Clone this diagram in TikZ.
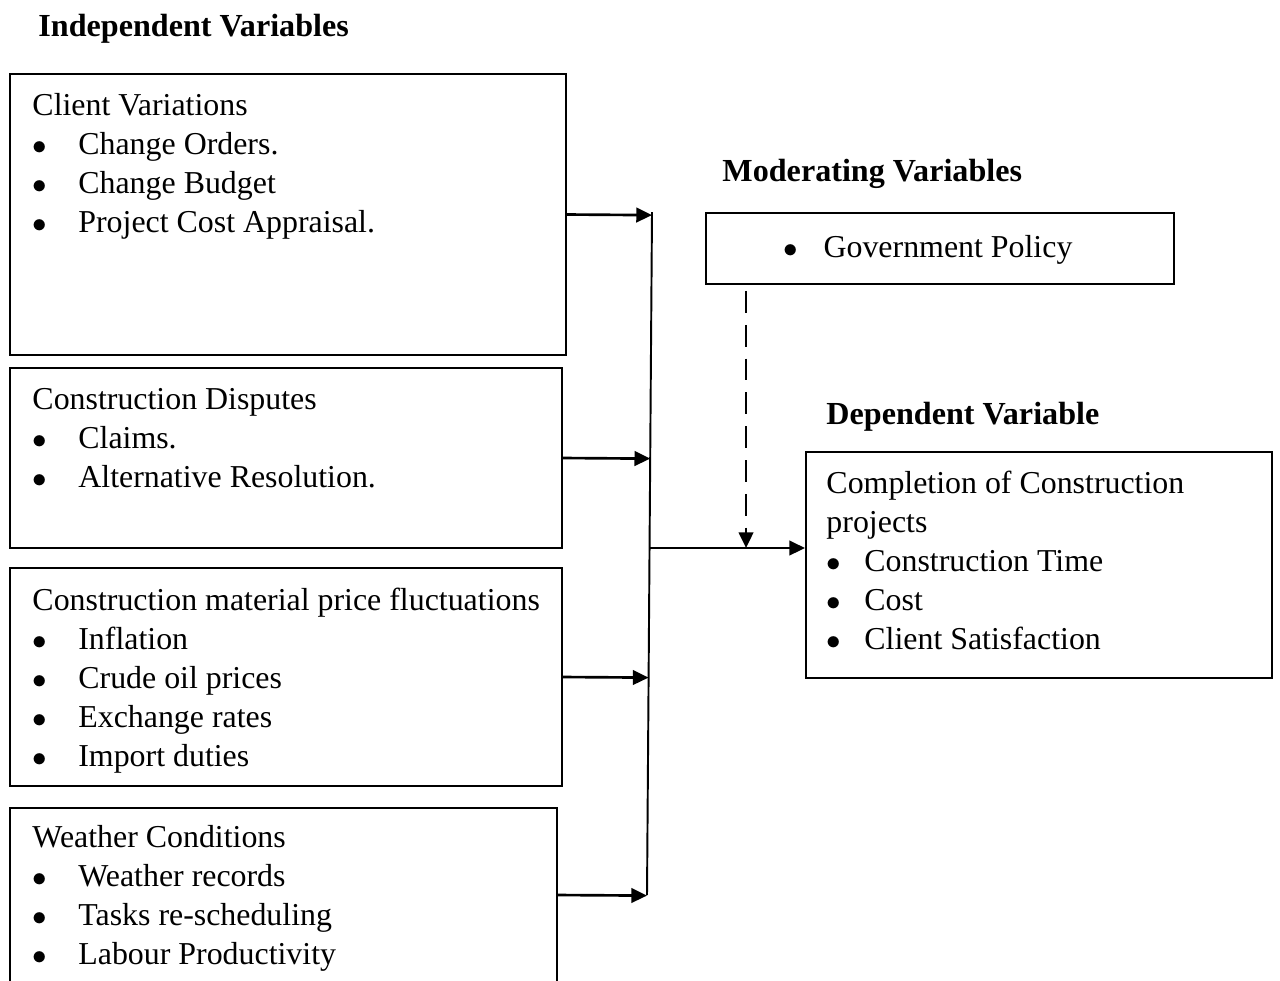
\documentclass[tikz,border=0pt]{standalone}
\usepackage{fontspec}
\setmainfont{Liberation Serif}
\usetikzlibrary{arrows.meta, calc}
\newcommand\pix{0.414pt} % one pixel of the layout
\newcommand\bul[1][19pt]{\makebox[#1][l]{$\bullet$}} % bullet with its indent
\tikzset{
varbox/.style={draw, rectangle, line width=0.8pt, inner sep=0pt}, % the framed boxes
boxtext/.style={anchor=north west, inner sep=0pt, align=left, font=\fontsize{13.2}{16.15}\selectfont}, % the lines in a box
heading/.style={anchor=base west, inner sep=0pt, font=\fontsize{13.3}{16.15}\selectfont\bfseries}, % bold titles
link/.style={-{Triangle[length=6.5pt,width=6pt]}, line width=1.1pt}, % arrows into the bar and the result
}

\begin{document}
\begin{tikzpicture}[x=\pix, y=-\pix]
        \path[fill=white] (0,0) rectangle (1280,980);
        \useasboundingbox (0,0) rectangle (1280,980);

        % titles
        \node[heading] (indep) at (38,36) {Independent Variables};
        \node[heading] (moder) at (722,181) {Moderating Variables};
        \node[heading] (dep) at (826,424) {Dependent Variable};

        % boxes
        \node[varbox, minimum width=556*\pix, minimum height=281*\pix] (cv) at (288,214.5) {};
        \node[varbox, minimum width=552*\pix, minimum height=180*\pix] (cd) at (286,458) {};
        \node[varbox, minimum width=552*\pix, minimum height=218*\pix] (mp) at (286,677) {};
        \node[varbox, minimum width=547*\pix, minimum height=174*\pix] (wc) at (283.5,895) {};
        \node[varbox, minimum width=468*\pix, minimum height=71*\pix] (gp) at (940,248.5) {};
        \node[varbox, minimum width=466*\pix, minimum height=226*\pix] (cc) at (1039,565) {};

        % box texts
        \node[boxtext] (cvtext) at (32,88) {\strut Client Variations\\
          \bul Change Orders.\\ \bul Change Budget\\ \bul Project Cost Appraisal.};
        \node[boxtext] (cdtext) at (32,382) {\strut Construction Disputes\\
          \bul Claims.\\ \bul Alternative Resolution.};
        \node[boxtext] (mptext) at (32,583) {\strut Construction material price fluctuations\\
          \bul Inflation\\ \bul Crude oil prices\\ \bul Exchange rates\\ \bul Import duties};
        \node[boxtext] (wctext) at (32,820) {\strut Weather Conditions\\
          \bul Weather records\\ \bul Tasks re-scheduling\\ \bul Labour Productivity};
        \node[boxtext] (cctext) at (826,466) {\strut Completion of Construction\\
          projects\\ \bul[15.7pt]Construction Time\\ \bul[15.7pt]Cost\\ \bul[15.7pt]Client Satisfaction};
        \node[heading, font=\fontsize{13.2}{16.15}\selectfont] (gptext) at (783,257) {\bul[16.6pt]Government Policy};

        % connectors
        \coordinate (jtop) at (652,212);
        \coordinate (jbot) at (647,895);
        \coordinate (jmid) at (649.5,548);
        \coordinate (gpdrop) at ($(gp.south west)+(41,6)$);
        \draw[line width=0.8pt] (jtop) -- (jbot);
        \draw[link] (cv.east) -- ($(jtop)!(cv.east)!(jbot)$);
        \draw[link] (cd.east) -- ($(jtop)!(cd.east)!(jbot)$);
        \draw[link] (mp.east) -- ($(jtop)!(mp.east)!(jbot)$);
        \draw[link] (wc.east) -- ($(jtop)!(wc.east)!(jbot)$);
        \draw[link] (jmid) -- (jmid -| cc.west);
        \draw[link, dash pattern=on 9pt off 5pt] (gpdrop) -- (gpdrop |- jmid);
      \end{tikzpicture}
\end{document}
